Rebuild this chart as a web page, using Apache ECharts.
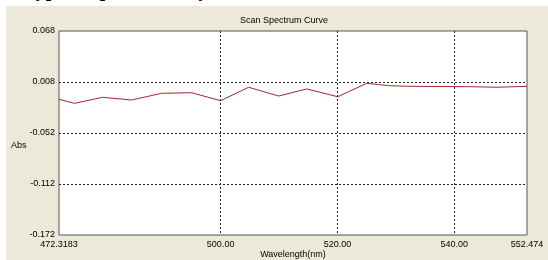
<!DOCTYPE html>
<html lang="en">

<head>
    <meta charset="UTF-8">
    <title>Scan Spectrum Curve</title>
    <script src="https://cdn.jsdelivr.net/npm/echarts@6/dist/echarts.min.js"></script>
    <style>
        body {
            margin: 0;
            background: #fff;
        }
    </style>
</head>

<body>
    <div id="main" style="width: 548px; height: 260px;"></div>
    <script>
        // wavelength (nm) and absorbance
        var wavelength = [472.3183, 474.97, 479.77, 484.74, 489.88, 495.03, 500.00, 504.80, 509.94,
            514.74, 520.05, 525.02, 528.96, 532.73, 542.67, 547.30, 552.474];
        var absorbance = [-0.0124, -0.0171, -0.0100, -0.0132, -0.0053, -0.0046, -0.0140, 0.0018, -0.0085,
            -0.0002, -0.0093, 0.0065, 0.0036, 0.0029, 0.0025, 0.0018, 0.0029];

        // tick labels
        var xTickValues = [472.3183, 500, 520, 540, 552.474];
        var xTickLabels = ['472.3183', '500.00', '520.00', '540.00', '552.474'];
        var xGridValues = [500, 520, 540];
        var yTickValues = [-0.172, -0.112, -0.052, 0.008, 0.068];
        var yGridValues = [-0.112, -0.052, 0.008];

        var points = [];
        for (var i = 0; i < wavelength.length; i++) {
            points.push([wavelength[i], absorbance[i]]);
        }

        var font = 'Liberation Sans';
        var myChart = echarts.init(document.getElementById('main'));
        var option = {
            animation: false,
            backgroundColor: '#fff',
            graphic: [
                // cut-off text line above the screenshot (only its bottom shows)
                {
                    type: 'text', left: 24, top: -19, z: -10,
                    style: { text: 'Typical spectrum of yellow', font: 'bold 20px "Liberation Serif"', fill: '#000' }
                },
                // window background
                { type: 'rect', left: 6, top: 6, shape: { width: 542, height: 254 }, style: { fill: '#ece9d8' }, z: -9 },
                // y axis name
                {
                    type: 'text', left: 11, top: 141, z: 5,
                    style: { text: 'Abs', font: '9px "Liberation Sans"', fill: '#000' }
                }
            ],
            title: {
                text: 'Scan Spectrum Curve',
                left: 240,
                top: 16,
                padding: 0,
                textStyle: { fontFamily: font, fontSize: 9, fontWeight: 'normal', color: '#000' }
            },
            grid: {
                left: 59,
                top: 31,
                width: 468,
                height: 204,
                outerBoundsMode: 'none',
                containLabel: false,
                show: true,
                backgroundColor: '#fff',
                borderColor: '#555',
                borderWidth: 1
            },
            xAxis: {
                type: 'value',
                min: 472.3183,
                max: 552.474,
                name: 'Wavelength(nm)',
                nameLocation: 'middle',
                nameGap: 15,
                nameMoveOverlap: false,
                nameTextStyle: { fontFamily: font, fontSize: 9, color: '#000' },
                axisLine: { show: false },
                axisTick: { show: false, customValues: xGridValues },
                axisLabel: {
                    customValues: xTickValues,
                    margin: 5,
                    fontFamily: font,
                    fontSize: 9,
                    color: '#000',
                    formatter: function (v) {
                        var idx = xTickValues.indexOf(v);
                        return idx >= 0 ? xTickLabels[idx] : '';
                    }
                },
                splitLine: { show: true, lineStyle: { color: '#222', type: [2, 2], width: 1 } }
            },
            yAxis: {
                type: 'value',
                min: -0.172,
                max: 0.068,
                axisLine: { show: false },
                axisTick: { show: false, customValues: yGridValues },
                axisLabel: {
                    customValues: yTickValues,
                    margin: 4,
                    fontFamily: font,
                    fontSize: 9,
                    color: '#000',
                    formatter: function (v) { return v.toFixed(3); }
                },
                splitLine: { show: true, lineStyle: { color: '#222', type: [2, 2], width: 1 } }
            },
            series: [{
                type: 'line',
                data: points,
                showSymbol: false,
                lineStyle: { color: '#a0282d', width: 1 }
            }]
        };
        myChart.setOption(option);
    </script>
</body>

</html>
